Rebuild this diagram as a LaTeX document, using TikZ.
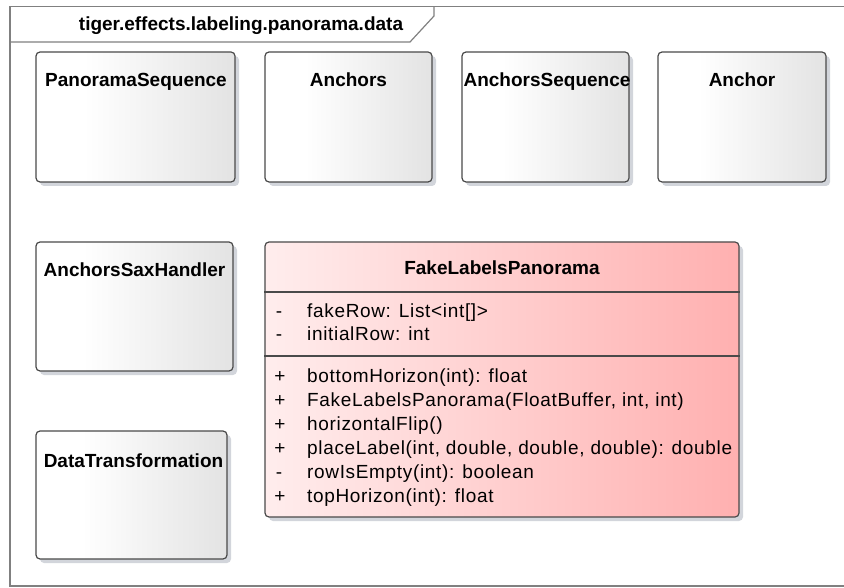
\documentclass[tikz,border=0pt]{standalone}
\usepackage{fontspec}
\setmainfont{Liberation Sans}
\newfontfamily\regfont[LetterSpace=3.5]{Liberation Sans}
\usetikzlibrary{shadows}
\definecolor{boxgray}{HTML}{E3E3E3}
\definecolor{pinkL}{HTML}{FFEDED}
\definecolor{pinkR}{HTML}{FFB0B0}
\definecolor{edgec}{HTML}{4A4A4A}
\definecolor{shadowc}{HTML}{D2D5DB}
\definecolor{framec}{HTML}{808080}
\pgfdeclarehorizontalshading{grayshade}{100bp}{color(0bp)=(white); color(25bp)=(white); color(37bp)=(white); color(75bp)=(boxgray); color(100bp)=(boxgray)}
\pgfdeclarehorizontalshading{pinkshade}{100bp}{color(0bp)=(pinkL); color(25bp)=(pinkL); color(75bp)=(pinkR); color(100bp)=(pinkR)}
\tikzset{
  boxshadow/.style={drop shadow={shadow xshift=4pt, shadow yshift=-4pt, fill=shadowc, opacity=1}},
  clsbox/.style={draw=edgec, line width=1.2pt, rounded corners=4pt, shading=grayshade, inner sep=0pt, boxshadow},
  pinkbox/.style={draw=edgec, line width=1.2pt, rounded corners=4pt, shading=pinkshade, inner sep=0pt, boxshadow},
  ttl/.style={anchor=base, inner sep=0pt, font=\bfseries\fontsize{19}{22}\selectfont},
  member/.style={anchor=base west, inner sep=0pt, font=\regfont\fontsize{19}{22}\selectfont},
  vis/.style={anchor=base, inner sep=0pt, font=\regfont\fontsize{19}{22}\selectfont},
  framel/.style={draw=framec, line width=1.2pt},
  sepline/.style={draw=edgec, line width=1.2pt}
}
\begin{document}
\begin{tikzpicture}[x=1pt,y=-1pt]
\useasboundingbox (0,0) rectangle (844,588);
% package frame
\draw[framel] (844,6.5) -- (10,6.5) -- (10,586) -- (844,586);
\draw[framel] (10,42) -- (410,42) -- (434,16) -- (434,6.5);
\node[ttl] (pkg) at (241,31) {tiger.effects.labeling.panorama.data};
% top row
\node[clsbox, minimum width=199pt, minimum height=130pt] (ps) at (135.5,117) {};
\node[ttl] (ps-t) at (136,87) {PanoramaSequence};
\node[clsbox, minimum width=167pt, minimum height=130pt] (an) at (348.5,117) {};
\node[ttl] (an-t) at (348.5,87) {Anchors};
\node[clsbox, minimum width=167pt, minimum height=130pt] (as) at (545.5,117) {};
\node[ttl] (as-t) at (547,87) {AnchorsSequence};
\node[clsbox, minimum width=168pt, minimum height=130pt] (a) at (742,117) {};
\node[ttl] (a-t) at (742,87) {Anchor};
% left column
\node[clsbox, minimum width=197pt, minimum height=129pt] (sax) at (134.5,306.5) {};
\node[ttl] (sax-t) at (134.5,277) {AnchorsSaxHandler};
\node[clsbox, minimum width=191pt, minimum height=128pt] (dt) at (131.5,495) {};
\node[ttl] (dt-t) at (133.5,467) {DataTransformation};
% FakeLabelsPanorama
\node[pinkbox, minimum width=474pt, minimum height=275pt] (flp) at (502,379.5) {};
\node[ttl] (flp-t) at (502,275) {FakeLabelsPanorama};
\draw[sepline] (flp.west |- 0,292) -- (flp.east |- 0,292);
\draw[sepline] (flp.west |- 0,356) -- (flp.east |- 0,356);
\node[vis] (v1) at (279,318) {-};
\node[member] (m1) at (307,318) {fakeRow: List<int[]>};
\node[vis] (v2) at (279,341) {-};
\node[member] (m2) at (307,341) {initialRow: int};
\node[vis] (v3) at (280,382) {+};
\node[member] (m3) at (307,382) {bottomHorizon(int): float};
\node[vis] (v4) at (280,406) {+};
\node[member] (m4) at (307,406) {FakeLabelsPanorama(FloatBuffer, int, int)};
\node[vis] (v5) at (280,430) {+};
\node[member] (m5) at (307,430) {horizontalFlip()};
\node[vis] (v6) at (280,454) {+};
\node[member] (m6) at (307,454) {placeLabel(int, double, double, double): double};
\node[vis] (v7) at (279,478) {-};
\node[member] (m7) at (307,478) {rowIsEmpty(int): boolean};
\node[vis] (v8) at (280,502) {+};
\node[member] (m8) at (307,502) {topHorizon(int): float};
\end{tikzpicture}
\end{document}
